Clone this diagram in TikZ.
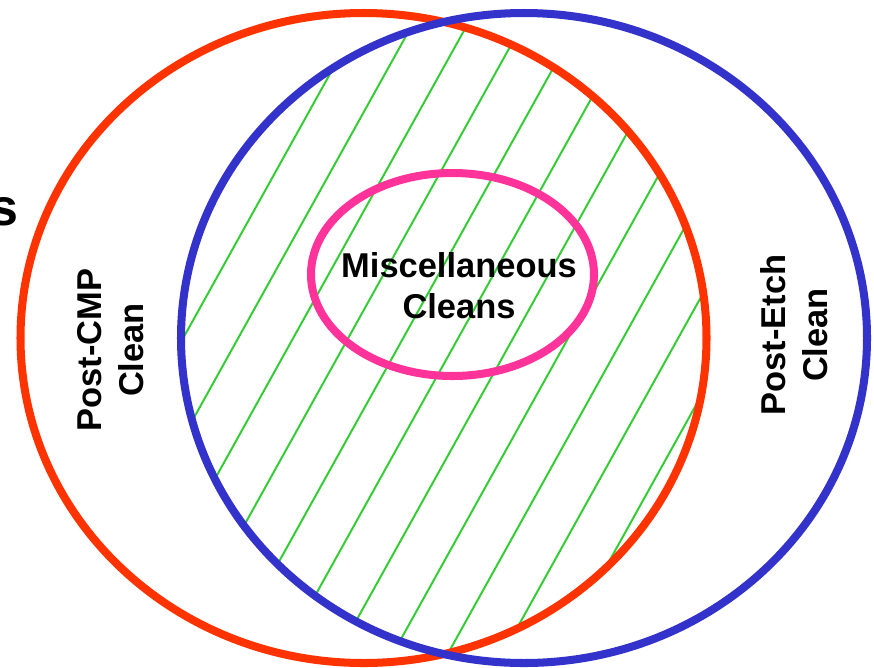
\documentclass[tikz,border=0pt]{standalone}
\usepackage{fontspec}
\setmainfont{Liberation Sans}
\usetikzlibrary{positioning}
\definecolor{cmpred}{RGB}{255,51,0}
\definecolor{etchblue}{RGB}{51,51,204}
\definecolor{miscpink}{RGB}{255,51,153}
\definecolor{hatchgreen}{RGB}{51,204,51}

\begin{document}
\begin{tikzpicture}[x=0.025cm,y=-0.025cm]

\tikzset{ring/.style={line width=5.7pt},
cleanlabel/.style={font=\bfseries\fontsize{24.5}{29.5}\selectfont,align=center,inner sep=0pt},
hatch/.style={hatchgreen,line width=1.4pt}}

\useasboundingbox (0,0) rectangle (874,667);

% hatched overlap
\begin{scope}
\clip (363.5,338) ellipse [x radius=343, y radius=325];
\clip (524,338) ellipse [x radius=343, y radius=325];
\foreach \c in {0,...,11} \draw[hatch] (371+55*\c+27.8,-50) -- (371+55*\c-400,720);
\end{scope}

% circles
\draw[ring,cmpred] (363.5,338) ellipse [x radius=343, y radius=325];
\draw[ring,etchblue] (524,338) ellipse [x radius=343, y radius=325];
\draw[ring,miscpink] (452.5,274.5) ellipse [x radius=141.5, y radius=101.5];

% labels
\node[cleanlabel] (misc) at (459,285.5) {Miscellaneous\\Cleans};
\node[cleanlabel,rotate=90] (cmp) at (110.5,350) {Post-CMP\\Clean};
\node[cleanlabel,rotate=90] (etch) at (794,335) {Post-Etch\\Clean};
\node[font=\bfseries\fontsize{37}{44}\selectfont,inner sep=0pt,anchor=base east] (cut) at (19,225) {s};

\end{tikzpicture}
\end{document}
